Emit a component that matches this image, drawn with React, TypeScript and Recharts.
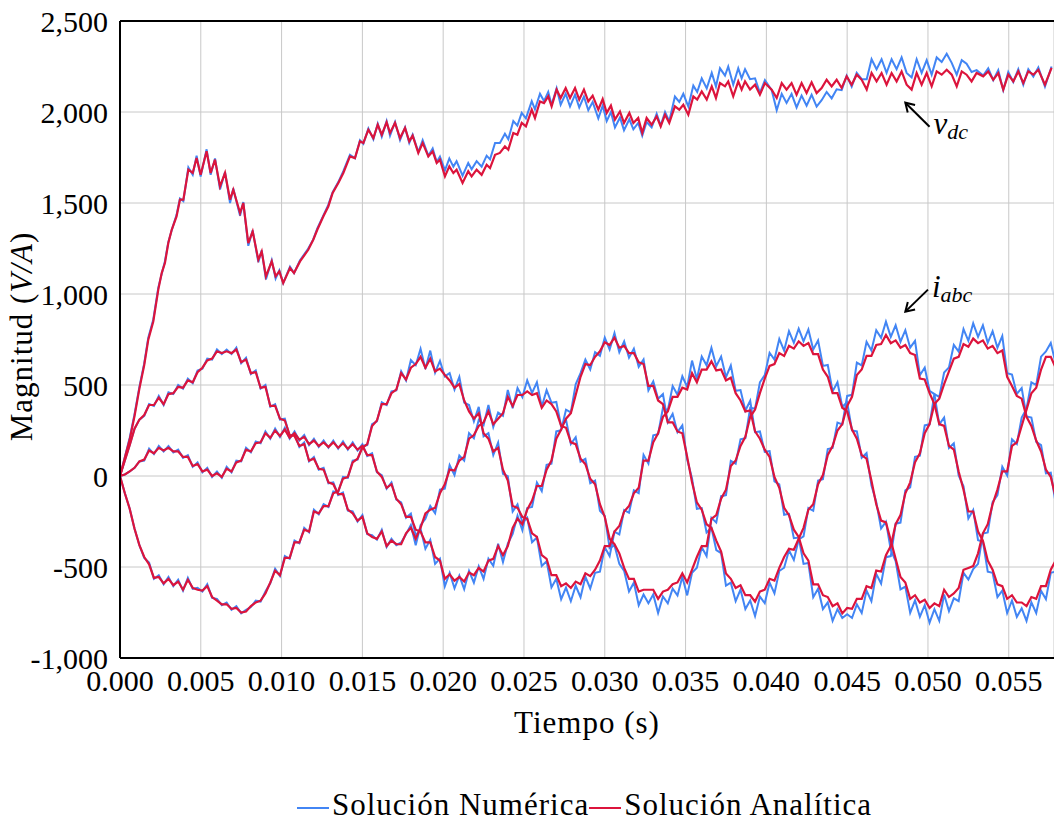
import { CartesianGrid, Line, LineChart, ReferenceLine, XAxis, YAxis } from 'recharts'

const BLUE = '#4285f4'
const RED = '#dc143c'
const FONT = 'Liberation Serif, DejaVu Serif, serif'

const xTicks = [0, 0.005, 0.01, 0.015, 0.02, 0.025, 0.03, 0.035, 0.04, 0.045, 0.05, 0.055]
const yTicks = [-1000, -500, 0, 500, 1000, 1500, 2000, 2500]

// phase currents, sampled every 0.3 ms
const curT = Array.from({ length: 194 }, (_, k) => k * 0.3)

const iaAna = [
  0, 85, 170, 260, 310, 335, 390, 390, 430, 395,
  450, 455, 490, 485, 525, 515, 570, 595, 635, 645,
  685, 675, 685, 675, 695, 625, 640, 565, 570, 485,
  490, 385, 385, 315, 305, 225, 220, 165, 175, 85,
  95, 40, 35, -35, -45, -100, -100, -185, -205, -245,
  -225, -315, -335, -345, -305, -385, -355, -375, -375, -315,
  -285, -345, -285, -205, -185, -175, -95, -45, 35, 30,
  85, 105, 205, 225, 275, 295, 355, 285, 315, 345,
  435, 385, 445, 445, 465, 445, 455, 375, 415, 395,
  355, 275, 265, 185, 175, 95, 65, -15, -45, -155,
  -225, -345, -375, -425, -505, -565, -565, -635, -625, -625,
  -625, -675, -635, -625, -595, -585, -535, -585, -515, -445,
  -385, -385, -235, -215, -125, -75, 55, 85, 165, 215,
  325, 365, 455, 535, 605, 615, 675, 660, 715, 700,
  740, 715, 730, 670, 670, 585, 545, 455, 455, 375,
  355, 255, 205, 115, 95, -25, -155, -245, -255, -355,
  -455, -555, -585, -675, -655, -695, -680, -725, -700, -715,
  -625, -665, -645, -615, -515, -505, -495, -425, -315, -265,
  -155, -75, 25, 25, 165, 185, 275, 365, 455, 485,
  585, 655, 655, 595,
]
const iaNum = [
  0, 85, 170, 260, 310, 330, 395, 385, 440, 390,
  460, 450, 500, 480, 535, 510, 580, 590, 645, 640,
  695, 670, 695, 670, 705, 620, 650, 560, 580, 480,
  500, 380, 395, 310, 315, 220, 230, 160, 185, 80,
  105, 35, 45, -40, -35, -105, -90, -190, -195, -250,
  -215, -320, -325, -350, -295, -390, -345, -380, -365, -320,
  -270, -380, -270, -235, -165, -205, -75, -70, 60, 5,
  112, 84, 236, 207, 308, 279, 390, 269, 349, 331,
  473, 372, 483, 434, 526, 457, 515, 381, 472, 403,
  407, 273, 310, 176, 213, 79, 94, -40, -25, -191,
  -219, -396, -381, -483, -522, -634, -586, -710, -651, -699,
  -651, -753, -662, -699, -619, -656, -554, -656, -532, -504,
  -392, -440, -230, -256, -111, -105, 83, 68, 202, 208,
  375, 370, 515, 554, 677, 640, 753, 689, 796, 732,
  810, 740, 805, 695, 745, 605, 610, 465, 515, 380,
  405, 250, 245, 100, 126, -51, -143, -288, -251, -407,
  -467, -623, -608, -752, -683, -774, -710, -806, -732, -796,
  -651, -742, -672, -688, -532, -569, -511, -483, -316, -310,
  -144, -105, 51, 3, 202, 176, 321, 370, 515, 500,
  656, 684, 731, 619,
]
const ibAna = [
  0, 8, 25, 45, 80, 90, 140, 125, 155, 140,
  155, 135, 135, 105, 105, 55, 65, 25, 35, 0,
  15, -5, 40, 25, 75, 85, 145, 135, 180, 185,
  235, 210, 250, 220, 255, 210, 235, 200, 215, 175,
  195, 165, 185, 160, 185, 155, 180, 150, 175, 145,
  165, 115, 115, 25, -5, -65, -45, -125, -155, -225,
  -225, -295, -305, -365, -365, -445, -465, -565, -540, -575,
  -555, -580, -530, -545, -505, -525, -465, -455, -385, -435,
  -385, -285, -235, -265, -185, -135, -55, -55, 35, 85,
  205, 255, 315, 345, 445, 545, 615, 610, 655, 685,
  735, 720, 760, 705, 715, 675, 675, 625, 615, 495,
  495, 415, 395, 295, 295, 245, 235, 105, -35, -145,
  -185, -265, -285, -355, -415, -535, -565, -615, -600, -655,
  -655, -690, -635, -625, -565, -575, -505, -445, -400, -405,
  -345, -285, -185, -155, -45, 5, 115, 165, 250, 285,
  385, 435, 555, 585, 660, 660, 720, 725, 775, 730,
  745, 705, 720, 675, 665, 535, 530, 455, 395, 285,
  275, 165, 145, 25, -75, -195, -195, -305, -355, -465,
  -515, -595, -605, -675, -655, -695, -695, -715, -665, -675,
  -605, -605, -515, -465,
]
const ibNum = [
  0, 8, 25, 45, 80, 85, 150, 120, 165, 135,
  165, 130, 145, 100, 115, 50, 75, 20, 45, -5,
  25, -10, 50, 20, 85, 80, 155, 130, 190, 180,
  245, 205, 260, 215, 265, 205, 245, 195, 225, 170,
  205, 160, 195, 155, 195, 150, 190, 145, 185, 140,
  175, 110, 125, 20, 5, -70, -35, -130, -145, -230,
  -207, -328, -290, -400, -351, -483, -454, -606, -532, -617,
  -547, -622, -521, -586, -496, -565, -454, -493, -372, -473,
  -372, -318, -218, -298, -176, -170, -36, -83, 62, 68,
  245, 252, 364, 349, 504, 565, 640, 585, 680, 660,
  760, 695, 785, 680, 740, 650, 700, 600, 640, 470,
  520, 424, 450, 295, 342, 241, 278, 90, -14, -180,
  -176, -310, -284, -407, -424, -602, -586, -688, -624, -731,
  -684, -769, -662, -699, -586, -645, -522, -504, -408, -461,
  -349, -332, -176, -191, -25, -18, 148, 154, 294, 284,
  440, 446, 623, 608, 737, 689, 801, 759, 848, 765,
  828, 738, 801, 705, 742, 554, 596, 468, 450, 284,
  321, 154, 180, 3, -57, -234, -187, -353, -360, -526,
  -532, -666, -630, -753, -684, -774, -727, -796, -694, -753,
  -630, -677, -532, -526,
]
const icAna = [
  0, -95, -180, -290, -380, -445, -485, -560, -555, -590,
  -565, -600, -580, -625, -570, -615, -625, -630, -605, -665,
  -685, -705, -705, -730, -725, -750, -745, -715, -695, -685,
  -645, -585, -520, -545, -450, -450, -365, -365, -295, -305,
  -195, -205, -165, -165, -95, -85, -15, -5, 75, 95,
  155, 175, 275, 305, 395, 395, 455, 475, 565, 530,
  595, 615, 655, 595, 645, 575, 590, 555, 525, 485,
  505, 415, 355, 315, 345, 235, 205, 135, 155, 35,
  -25, -165, -175, -225, -235, -315, -335, -435, -455, -545,
  -545, -605, -590, -615, -580, -595, -535, -550, -515, -465,
  -385, -385, -305, -275, -195, -165, -95, -65, 85, 85,
  185, 235, 325, 355, 435, 435, 485, 475, 565, 515,
  585, 585, 630, 580, 585, 525, 540, 455, 415, 355,
  360, 245, 205, 145, 105, -5, -65, -175, -215, -295,
  -335, -425, -465, -595, -595, -655, -665, -715, -700, -755,
  -725, -730, -675, -675, -605, -615, -520, -525, -435, -385,
  -265, -215, -95, -35, 75, 125, 235, 285, 395, 425,
  505, 575, 645, 655, 725, 710, 755, 730, 745, 700,
  715, 675, 690, 545, 495, 440, 425, 325, 275, 195,
  135, 35, -5, -115,
]
const icNum = [
  0, -95, -180, -290, -380, -450, -475, -565, -545, -595,
  -555, -605, -570, -630, -560, -620, -615, -635, -595, -670,
  -675, -710, -695, -735, -715, -755, -735, -720, -685, -690,
  -635, -590, -510, -550, -440, -455, -355, -370, -285, -310,
  -185, -210, -155, -170, -85, -90, -5, -10, 85, 90,
  165, 170, 285, 300, 405, 390, 465, 470, 575, 525,
  637, 609, 699, 588, 689, 568, 632, 547, 565, 475,
  545, 403, 390, 300, 380, 218, 236, 115, 184, 12,
  -1, -195, -156, -256, -230, -364, -338, -494, -468, -612,
  -565, -677, -613, -688, -603, -666, -554, -618, -532, -526,
  -392, -440, -306, -321, -187, -202, -79, -94, 116, 68,
  224, 230, 375, 360, 494, 446, 548, 489, 634, 532,
  656, 608, 704, 603, 656, 543, 607, 468, 472, 360,
  413, 241, 245, 133, 137, -29, -46, -213, -208, -342,
  -338, -483, -478, -666, -619, -731, -694, -796, -732, -780,
  -760, -780, -705, -753, -630, -688, -538, -591, -446, -440,
  -262, -256, -79, -62, 105, 111, 278, 284, 450, 435,
  569, 597, 720, 684, 807, 743, 839, 765, 828, 732,
  796, 705, 769, 565, 558, 451, 483, 327, 321, 187,
  170, 14, 18, -148,
]

// dc-link voltage, read at the ripple turning points (ms)
const vdcT = [
  0, 0.3, 0.6, 0.9, 1.2, 1.5, 1.75, 2.06, 2.37, 2.58,
  2.78, 2.99, 3.2, 3.5, 3.71, 3.92, 4.23, 4.5, 4.74, 4.99,
  5.36, 5.61, 5.88, 6.19, 6.5, 6.81, 7.01, 7.43, 7.63, 7.94,
  8.21, 8.56, 8.77, 9.03, 9.39, 9.63, 9.86, 10.1, 10.52, 10.77,
  11.14, 11.65, 11.96, 12.21, 12.58, 12.89, 13.16, 13.51, 13.82, 14.23,
  14.54, 14.85, 15.06, 15.37, 15.68, 15.95, 16.2, 16.5, 16.71, 17.02,
  17.33, 17.64, 17.9, 18.11, 18.46, 18.73, 19.08, 19.35, 19.6, 19.8,
  20.11, 20.38, 20.63, 20.83, 21.2, 21.55, 21.76, 22.07, 22.38, 22.69,
  22.9, 23.21, 23.51, 23.82, 24.03, 24.34, 24.59, 24.86, 25.12, 25.48,
  25.68, 25.99, 26.24, 26.5, 26.71, 27.02, 27.27, 27.58, 27.85, 28.16,
  28.42, 28.71, 28.98, 29.25, 29.6, 29.87, 30.12, 30.38, 30.63, 30.94,
  31.19, 31.52, 31.77, 32.07, 32.32, 32.59, 32.9, 33.21, 33.46, 33.73,
  33.99, 34.34, 34.61, 34.86, 35.17, 35.48, 35.72, 36.0, 36.31, 36.62,
  36.88, 37.13, 37.44, 37.64, 37.95, 38.26, 38.47, 38.68, 38.99, 39.3,
  39.6, 39.91, 40.33, 40.64, 40.95, 41.25, 41.56, 41.87, 42.18, 42.49,
  42.8, 43.11, 43.42, 43.73, 44.04, 44.35, 44.66, 44.97, 45.28, 45.59,
  45.9, 46.21, 46.51, 46.82, 47.13, 47.44, 47.75, 48.06, 48.37, 48.68,
  48.99, 49.3, 49.61, 49.92, 50.23, 50.54, 50.85, 51.16, 51.47, 51.78,
  52.09, 52.39, 52.7, 53.01, 53.42, 53.73, 54.04, 54.35, 54.66, 54.97,
  55.28, 55.59, 55.9, 56.21, 56.52, 56.83, 57.24, 57.65,
]
const vdcAna = [
  0, 100, 200, 330, 480, 610, 749, 849, 1024, 1115,
  1170, 1280, 1353, 1426, 1518, 1518, 1683, 1665, 1747, 1655,
  1784, 1665, 1738, 1591, 1665, 1518, 1573, 1445, 1500, 1280,
  1344, 1188, 1234, 1097, 1179, 1097, 1124, 1060, 1143, 1115,
  1179, 1243, 1298, 1353, 1426, 1481, 1555, 1610, 1665, 1756,
  1747, 1839, 1830, 1903, 1857, 1930, 1875, 1943, 1885, 1940,
  1857, 1912, 1839, 1870, 1775, 1830, 1756, 1784, 1720, 1738,
  1646, 1701, 1665, 1683, 1610, 1674, 1646, 1683, 1655, 1710,
  1692, 1765, 1775, 1811, 1793, 1885, 1875, 1940, 1921, 2013,
  1967, 2058, 2049, 2086, 2031, 2123, 2077, 2132, 2077, 2132,
  2068, 2123, 2058, 2090, 2013, 2071, 1995, 2035, 1958, 2003,
  1940, 1995, 1940, 1967, 1885, 1967, 1930, 1976, 1921, 1985,
  1940, 2031, 2013, 2040, 1985, 2086, 2068, 2113, 2068, 2141,
  2077, 2159, 2141, 2168, 2086, 2168, 2123, 2168, 2123, 2150,
  2095, 2159, 2123, 2077, 2159, 2123, 2159, 2095, 2159, 2104,
  2163, 2104, 2132, 2177, 2141, 2177, 2132, 2196, 2150, 2205,
  2177, 2123, 2214, 2168, 2214, 2150, 2214, 2168, 2223, 2150,
  2123, 2214, 2150, 2214, 2141, 2223, 2205, 2232, 2205, 2141,
  2223, 2205, 2168, 2214, 2196, 2223, 2177, 2214, 2123, 2205,
  2168, 2223, 2159, 2223, 2205, 2232, 2150, 2242,
]
const vdcNum = [
  0, 105, 210, 340, 490, 620, 760, 860, 1035, 1110,
  1180, 1285, 1350, 1435, 1525, 1510, 1695, 1655, 1760, 1645,
  1795, 1655, 1745, 1575, 1670, 1500, 1580, 1430, 1505, 1265,
  1350, 1175, 1240, 1080, 1185, 1085, 1130, 1060, 1150, 1115,
  1185, 1250, 1300, 1360, 1430, 1490, 1560, 1615, 1675, 1765,
  1745, 1845, 1825, 1910, 1850, 1935, 1865, 1950, 1870, 1945,
  1845, 1915, 1830, 1875, 1780, 1845, 1760, 1800, 1725, 1755,
  1680, 1745, 1700, 1730, 1650, 1720, 1685, 1730, 1700, 1760,
  1740, 1830, 1830, 1880, 1850, 1950, 1925, 1995, 1965, 2060,
  2015, 2100, 2060, 2110, 2040, 2130, 2040, 2100, 2030, 2095,
  2025, 2085, 2010, 2055, 1965, 2035, 1950, 2000, 1915, 1970,
  1900, 1960, 1905, 1940, 1870, 1945, 1915, 1990, 1925, 2000,
  1950, 2085, 2055, 2100, 2030, 2145, 2110, 2185, 2130, 2215,
  2140, 2240, 2200, 2250, 2150, 2240, 2185, 2235, 2180, 2185,
  2105, 2175, 2120, 2010, 2100, 2050, 2100, 2025, 2090, 2035,
  2095, 2030, 2065, 2110, 2075, 2125, 2120, 2200, 2140, 2215,
  2180, 2180, 2290, 2235, 2290, 2215, 2290, 2235, 2300, 2215,
  2190, 2290, 2215, 2285, 2205, 2300, 2275, 2320, 2270, 2205,
  2285, 2265, 2220, 2230, 2200, 2240, 2175, 2230, 2120, 2220,
  2165, 2235, 2150, 2235, 2195, 2245, 2140, 2250,
]

const curRows = curT.map((t, k) => ({
  t: t / 1000,
  iaAna: iaAna[k], iaNum: iaNum[k],
  ibAna: ibAna[k], ibNum: ibNum[k],
  icAna: icAna[k], icNum: icNum[k],
}))
const vdcRows = vdcT.map((t, k) => ({ t: t / 1000, ana: vdcAna[k], num: vdcNum[k] }))

const tickStyle = { fill: '#000', fontSize: 30, fontFamily: FONT }

function ArrowNote(props: any) {
  const { x1, y1, x2, y2, main, sub } = props
  const ang = Math.atan2(y2 - y1, x2 - x1)
  const L = 10
  const a1 = [x2 - L * Math.cos(ang - 0.55), y2 - L * Math.sin(ang - 0.55)]
  const a2 = [x2 - L * Math.cos(ang + 0.55), y2 - L * Math.sin(ang + 0.55)]
  return (
    <g>
      <line x1={x1} y1={y1} x2={x2} y2={y2} stroke="#000" strokeWidth={2} />
      <polyline points={`${a1[0]},${a1[1]} ${x2},${y2} ${a2[0]},${a2[1]}`} fill="none" stroke="#000" strokeWidth={2} />
      <text x={x1 + 4} y={y1 + 7} style={{ fontFamily: FONT }} fontStyle="italic" fontSize={31} fill="#000">
        {main}
        <tspan fontSize={22} dy={5}>{sub}</tspan>
      </text>
    </g>
  )
}

const xTitle = ({ viewBox }: any) => (
  <text x={viewBox.x + viewBox.width / 2} y={viewBox.y + 75} textAnchor="middle" style={{ fontFamily: FONT }} fontSize={31} letterSpacing={1} fill="#000">
    Tiempo (s)
  </text>
)

const yTitle = ({ viewBox }: any) => {
  const cx = viewBox.x + 32
  const cy = viewBox.y + viewBox.height / 2 - 3
  return (
    <text x={cx} y={cy} transform={`rotate(-90 ${cx} ${cy})`} textAnchor="middle" style={{ fontFamily: FONT }} fontSize={31} letterSpacing={1} fill="#000">
      Magnitud (<tspan fontStyle="italic">V/A</tspan>)
    </text>
  )
}

const swatch = (color: string) => (
  <span style={{ display: 'inline-block', width: 32, borderTop: `2.5px solid ${color}`, verticalAlign: 'middle', marginRight: 3 }} />
)

export default function App() {
  return (
    <div style={{ position: 'absolute', left: 0, top: 0, width: 1054, height: 826, background: '#fff', overflow: 'hidden', fontFamily: FONT }}>
      <LineChart width={1054} height={760} margin={{ top: 21, right: 0, left: 0, bottom: 0 }} style={{ fontFamily: FONT }}>
        <CartesianGrid stroke="#c8c8c8" strokeWidth={1} />
        <XAxis
          dataKey="t"
          type="number"
          domain={[0, 0.0578]}
          ticks={xTicks}
          allowDataOverflow
          tickFormatter={(v: number) => v.toFixed(3)}
          tick={tickStyle}
          tickLine={false}
          tickSize={6}
          tickMargin={6}
          axisLine={{ stroke: '#000', strokeWidth: 2 }}
          height={102}
          label={xTitle}
        />
        <YAxis
          type="number"
          domain={[-1000, 2500]}
          ticks={yTicks}
          allowDataOverflow
          tickFormatter={(v: number) => v.toLocaleString('en-US')}
          tick={tickStyle}
          tickLine={false}
          tickSize={6}
          tickMargin={6}
          axisLine={{ stroke: '#000', strokeWidth: 2 }}
          width={120}
          label={yTitle}
        />
        <ReferenceLine y={2500} stroke="#000" strokeWidth={2} />

        <Line data={vdcRows} dataKey="num" stroke={BLUE} strokeWidth={2} dot={false} activeDot={false} isAnimationActive={false} />
        <Line data={curRows} dataKey="iaNum" stroke={BLUE} strokeWidth={2} dot={false} activeDot={false} isAnimationActive={false} />
        <Line data={curRows} dataKey="ibNum" stroke={BLUE} strokeWidth={2} dot={false} activeDot={false} isAnimationActive={false} />
        <Line data={curRows} dataKey="icNum" stroke={BLUE} strokeWidth={2} dot={false} activeDot={false} isAnimationActive={false} />

        <Line data={vdcRows} dataKey="ana" stroke={RED} strokeWidth={2.2} dot={false} activeDot={false} isAnimationActive={false} />
        <Line data={curRows} dataKey="iaAna" stroke={RED} strokeWidth={2.2} dot={false} activeDot={false} isAnimationActive={false} />
        <Line data={curRows} dataKey="ibAna" stroke={RED} strokeWidth={2.2} dot={false} activeDot={false} isAnimationActive={false} />
        <Line data={curRows} dataKey="icAna" stroke={RED} strokeWidth={2.2} dot={false} activeDot={false} isAnimationActive={false} />

        <ReferenceLine
          segment={[{ x: 0.0501, y: 1919 }, { x: 0.0486, y: 2051 }]}
          shape={(p: any) => <ArrowNote {...p} main="v" sub="dc" />}
        />
        <ReferenceLine
          segment={[{ x: 0.05, y: 1024 }, { x: 0.0486, y: 903 }]}
          shape={(p: any) => <ArrowNote {...p} main="i" sub="abc" />}
        />
      </LineChart>

      <div style={{ position: 'absolute', left: 297, top: 788, lineHeight: '34px', fontSize: 31, letterSpacing: 1, whiteSpace: 'nowrap', color: '#000' }}>
        {swatch(BLUE)}Solución Numérica{swatch(RED)}Solución Analítica
      </div>
    </div>
  )
}
